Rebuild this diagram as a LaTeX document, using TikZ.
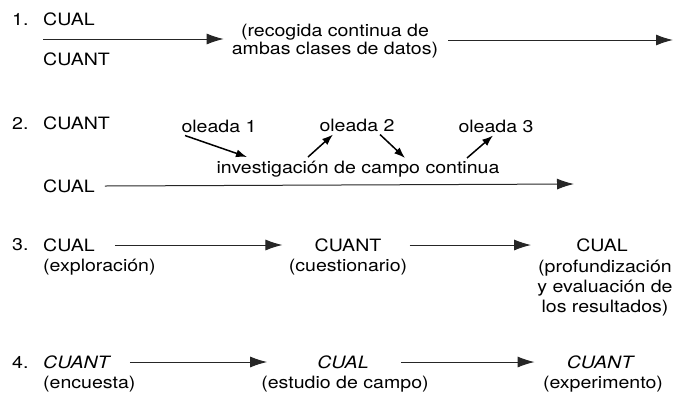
\documentclass[tikz,border=0pt]{standalone}
\usepackage{fontspec}
\setmainfont{TeX Gyre Heros}[FakeStretch=1.15]
\usetikzlibrary{arrows.meta,positioning}

\begin{document}
\begin{tikzpicture}[x=1bp, y=-1bp,
    lbl/.style={inner sep=0pt, font=\fontsize{17bp}{20bp}\selectfont},
    flow/.style={-{Latex[length=17bp,width=11bp]}, line width=1bp, black!85},
    wave/.style={-{Latex[length=11bp,width=8bp]}, line width=1.5bp}]
    \useasboundingbox (0,0) rectangle (675,401);

    % 1. CUAL + CUANT at once
    \node [lbl, anchor=west] (num1) at (12,19) {1.};
    \node [lbl, anchor=west] (cual1) at (43,19) {CUAL};
    \node [lbl, anchor=west] (cuant1) at (43,59) {CUANT};
    \node [lbl, align=center, font=\fontsize{17bp}{18bp}\selectfont] (both) at (335,41)
        {(recogida continua de\\ambas clases de datos)};
    \coordinate (start1) at (43,39);
    \coordinate (end1) at (673,40);
    \draw [flow] (start1) -- ([xshift=-8bp]both.west |- start1);
    \draw [flow] ([xshift=10bp]both.east |- end1) -- (end1);

    % 2. waves over continuous field work
    \node [lbl, anchor=west] (num2) at (12,123) {2.};
    \node [lbl, anchor=west] (cuant2) at (43,123) {CUANT};
    \node [lbl] (wave1) at (219,126) {oleada 1};
    \node [lbl] (wave2) at (357,125) {oleada 2};
    \node [lbl] (wave3) at (496,126) {oleada 3};
    \node [lbl] (field) at (358,169) {investigación de campo continua};
    \node [lbl, anchor=west] (cual2) at (43,186) {CUAL};
    \coordinate (end2) at (574,184);
    \draw [flow] ([xshift=10bp]cual2.east) -- (end2);
    \coordinate (dip1) at (247,157);
    \coordinate (dip2) at (308,157);
    \coordinate (dip3) at (405,158);
    \coordinate (dip4) at (467,158);
    \draw [wave] ([xshift=-34bp,yshift=-3bp]wave1.south) -- (dip1);
    \draw [wave] (dip2) -- ([xshift=-24bp,yshift=-3bp]wave2.south);
    \draw [wave] ([xshift=23bp,yshift=-3bp]wave2.south) -- (dip3);
    \draw [wave] (dip4) -- ([xshift=-3bp,yshift=-3bp]wave3.south);

    % 3. CUAL -> CUANT -> CUAL
    \node [lbl, anchor=west] (num3) at (12,245) {3.};
    \node [lbl, anchor=west] (cual3) at (43,245) {CUAL};
    \node [lbl, anchor=west] (explo) at (43,267) {(exploración)};
    \node [lbl] (cuant3) at (348,245) {CUANT};
    \node [lbl] (cuest) at (348,267) {(cuestionario)};
    \node [lbl] (cual3b) at (602,245) {CUAL};
    \node [lbl, align=center] (prof) at (605,288)
        {(profundización\\y evaluación de\\los resultados)};
    \draw [flow] ([xshift=20bp]cual3.east) -- ([xshift=-32bp]cuant3.west);
    \draw [flow] ([xshift=28bp]cuant3.east) -- ([xshift=-45bp]cual3b.west);

    % 4. CUANT -> CUAL -> CUANT
    \node [lbl, anchor=west] (num4) at (12,362) {4.};
    \node [lbl, anchor=west] (cuant4) at (43,362) {\itshape CUANT};
    \node [lbl, anchor=west] (encu) at (43,384) {(encuesta)};
    \node [lbl] (cual4) at (343,362) {\itshape CUAL};
    \node [lbl] (estu) at (345,384) {(estudio de campo)};
    \node [lbl] (cuant4b) at (600,362) {\itshape CUANT};
    \node [lbl] (expe) at (603,384) {(experimento)};
    \draw [flow] ([xshift=20bp]cuant4.east) -- ([xshift=-50bp]cual4.west);
    \draw [flow] ([xshift=32bp]cual4.east) -- ([xshift=-32bp]cuant4b.west);
\end{tikzpicture}
\end{document}
